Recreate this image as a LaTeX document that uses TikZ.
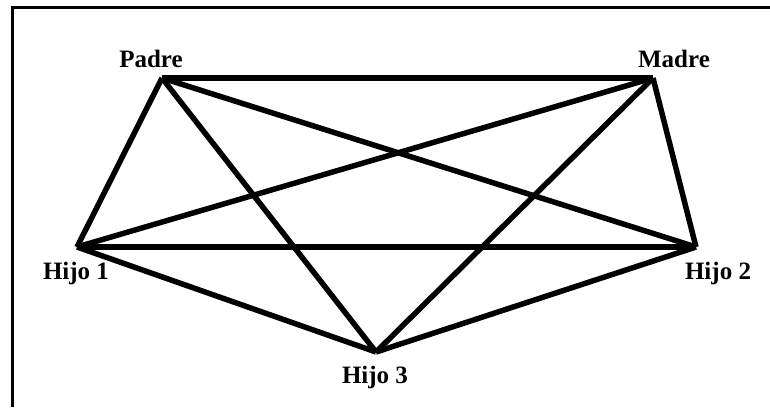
\documentclass[tikz,border=0pt]{standalone}
\usepackage{fontspec}
\setmainfont{Liberation Serif}
\begin{document}
\begin{tikzpicture}[x=1pt,y=-1pt,
  edge/.style={line width=5.5pt,line cap=butt,line join=miter},
  lbl/.style={font=\fontsize{25}{29}\selectfont\bfseries,anchor=base,inner sep=0pt},
  frame/.style={line width=2.5pt}]
\useasboundingbox (0,0) rectangle (770,407);
\coordinate (fA) at (12.3,407);
\coordinate (fB) at (12.3,7.3);
\coordinate (fC) at (770,7.3);
\draw[frame] (fA) -- (fB) -- (fC);
\coordinate (P) at (162,78);
\coordinate (M) at (653,78);
\coordinate (H1) at (77,247);
\coordinate (H2) at (696,247);
\coordinate (H3) at (376,352);
\node[lbl] (lP) at (151,67) {Padre};
\node[lbl] (lM) at (674,67) {Madre};
\node[lbl] (lH1) at (76,279) {Hijo 1};
\node[lbl] (lH2) at (718,279) {Hijo 2};
\node[lbl] (lH3) at (375,383) {Hijo 3};
\draw[edge] (P) -- (M);
\draw[edge] (P) -- (H1);
\draw[edge] (P) -- (H2);
\draw[edge] (P) -- (H3);
\draw[edge] (M) -- (H1);
\draw[edge] (M) -- (H2);
\draw[edge] (M) -- (H3);
\draw[edge] (H1) -- (H2);
\draw[edge] (H1) -- (H3);
\draw[edge] (H2) -- (H3);
\end{tikzpicture}
\end{document}
